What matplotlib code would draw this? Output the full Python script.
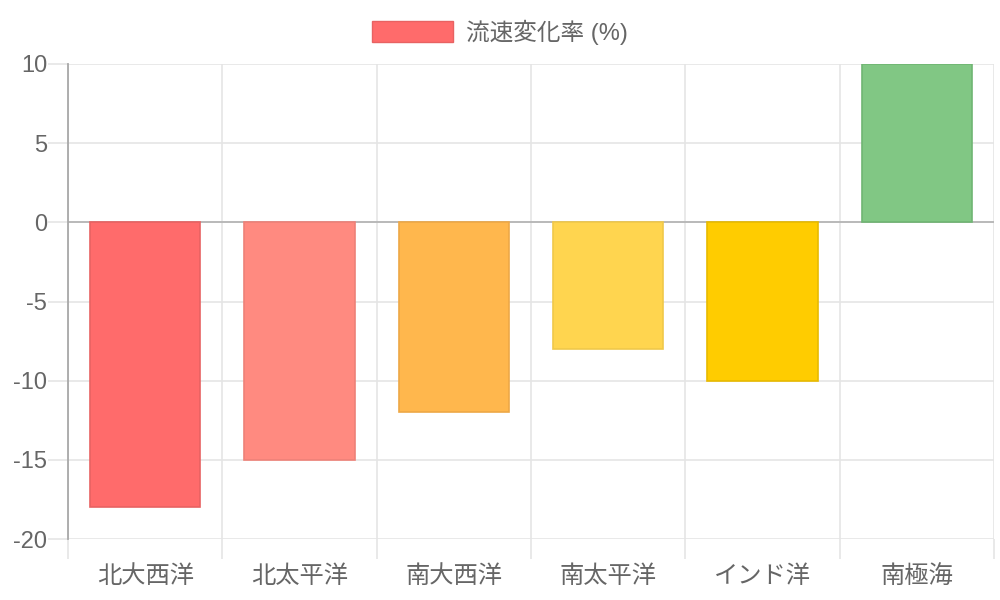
import numpy as np
import matplotlib
matplotlib.use('Agg')
import matplotlib.pyplot as plt
from matplotlib.patches import Patch

plt.rcParams['font.family'] = ['Liberation Sans', 'Noto Sans CJK JP', 'DejaVu Sans']

oceans = ['北大西洋', '北太平洋', '南大西洋', '南太平洋', 'インド洋', '南極海']
change = [-18, -15, -12, -8, -10, 10]
fills = ['#FF6B6B', '#FF8A80', '#FFB74D', '#FFD54F', '#FFCC00', '#81C784']
edges = ['#E86262', '#EE8178', '#EEA846', '#F0C84A', '#E8BA00', '#70B573']
series_name = '流速変化率 (%)'
y_ticks = [10, 5, 0, -5, -10, -15, -20]

grid_c = '#E5E5E5'
text_c = '#666666'

fig = plt.figure(figsize=(10, 6), dpi=100)
ax = fig.add_axes([0.068, 1 - 539 / 600, 0.926, (539 - 64) / 600])

x = np.arange(len(oceans))
ax.bar(x, change, width=0.715, color=fills, edgecolor=edges, linewidth=1.2, zorder=3)

ax.set_xlim(-0.5, len(oceans) - 0.5)
ax.set_ylim(-20, 10)

# y grid + tick marks extending left
ax.set_yticks(y_ticks)
ax.set_yticklabels([str(v) for v in y_ticks])
ax.yaxis.grid(True, color=grid_c, linewidth=1.2, zorder=0)
ax.tick_params(axis='y', length=14.4, width=1.2, color=grid_c, pad=0.5,
               labelsize=17, labelcolor=text_c)
ax.axhline(0, color='#B5B5B5', linewidth=1.3, zorder=2)

# x: labels at centers, grid at boundaries
ax.set_xticks(x)
ax.set_xticklabels(oceans)
ax.tick_params(axis='x', which='major', length=0, pad=19,
               labelsize=17.5, labelcolor=text_c)
ax.set_xticks(np.arange(len(oceans) + 1) - 0.5, minor=True)
ax.xaxis.grid(True, which='minor', color=grid_c, linewidth=1.2, zorder=0)
ax.tick_params(axis='x', which='minor', length=14.4, width=1.2, color=grid_c)

for side in ['top', 'right', 'bottom']:
    ax.spines[side].set_visible(False)
ax.spines['left'].set_color('#A8A8A8')
ax.spines['left'].set_linewidth(1.3)

handle = Patch(facecolor=fills[0], edgecolor=edges[0], linewidth=1.0)
fig.legend([handle], [series_name], loc='center', bbox_to_anchor=(0.5, 1 - 32 / 600),
           frameon=False, fontsize=17, labelcolor=text_c,
           handlelength=3.4, handleheight=1.0, handletextpad=0.55)

fig.savefig('out.png', dpi=100, facecolor='white')
